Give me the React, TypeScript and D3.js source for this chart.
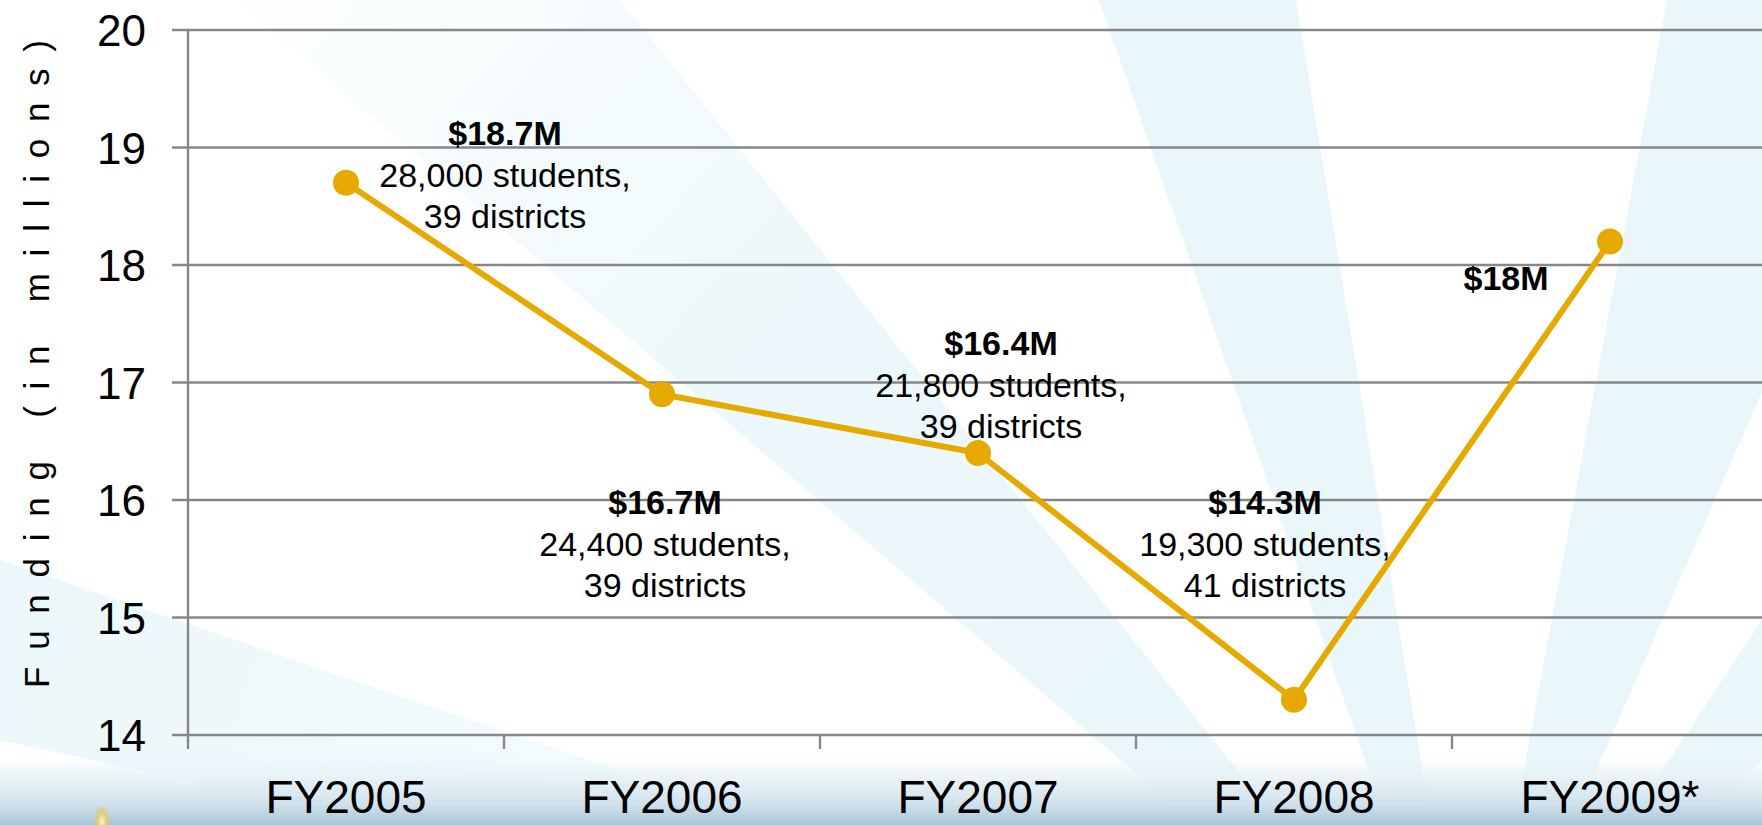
import React from "react";
import * as d3 from "d3";

const categories = ["FY2005", "FY2006", "FY2007", "FY2008", "FY2009*"];
const funding = [18.7, 16.9, 16.4, 14.3, 18.2];
const amountLabels = ["$18.7M", "$16.7M", "$16.4M", "$14.3M", "$18M"];
const studentLabels = ["28,000 students,", "24,400 students,", "21,800 students,", "19,300 students,", ""];
const districtLabels = ["39 districts", "39 districts", "39 districts", "41 districts", ""];
const labelDx = [159, 3, 23, -29, -104];
const labelFirstBaseline = [145, 514, 355, 514, 290];
const yTicks = [14, 15, 16, 17, 18, 19, 20];
const yTitle = "Funding (in millions)";

const W = 1762;
const H = 825;
const FONT = "'Liberation Sans', Arial, Helvetica, sans-serif";

export default function App() {
  const x = d3.scaleBand<string>().domain(categories).range([188, 188 + 316 * 5]).padding(0);
  const y = d3.scaleLinear().domain([14, 20]).range([735, 30]);
  const cx = (c: string) => (x(c) as number) + x.bandwidth() / 2;

  const line = d3
    .line<number>()
    .x((_, i) => cx(categories[i]))
    .y((d) => y(d));

  const P: [number, number] = [1470, 1060];
  const rays: [number, number][][] = [
    [P, [236, 0], [620, 0]],
    [P, [1099, 0], [1296, 0]],
    [P, [1667, 0], [1933, 0]],
    [P, [1762, 620], [1762, 760]],
    [P, [0, 560], [0, 740]],
  ];

  const gridColor = "#878787";
  const lineColor = "#E6A900";

  return (
    <div style={{ position: "fixed", left: 0, top: 0, width: W, height: H, overflow: "hidden", background: "#fff" }}>
      <svg width={W} height={H} viewBox={`0 0 ${W} ${H}`} style={{ display: "block" }}>
        <defs>
          <linearGradient id="bottomBand" x1="0" y1="0" x2="0" y2="1">
            <stop offset="0%" stopColor="#e6f1f6" stopOpacity={0} />
            <stop offset="30%" stopColor="#e6f0f5" stopOpacity={0.85} />
            <stop offset="70%" stopColor="#cfe1ec" stopOpacity={1} />
            <stop offset="100%" stopColor="#a9c5d8" stopOpacity={1} />
          </linearGradient>
          <linearGradient id="rayUL" gradientUnits="userSpaceOnUse" x1="300" y1="0" x2="1100" y2="700">
            <stop offset="0%" stopColor="#e8f6fa" stopOpacity={0.15} />
            <stop offset="55%" stopColor="#e8f6fa" stopOpacity={0.9} />
            <stop offset="100%" stopColor="#e8f6fa" stopOpacity={1} />
          </linearGradient>
          <linearGradient id="rayLL" gradientUnits="userSpaceOnUse" x1="0" y1="600" x2="900" y2="800">
            <stop offset="0%" stopColor="#e8f6fa" stopOpacity={0.9} />
            <stop offset="100%" stopColor="#e8f6fa" stopOpacity={0.5} />
          </linearGradient>
          <radialGradient id="glow" cx="0.5" cy="0.5" r="0.5">
            <stop offset="0%" stopColor="#fff6c8" stopOpacity={1} />
            <stop offset="60%" stopColor="#e8c65a" stopOpacity={0.7} />
            <stop offset="100%" stopColor="#e8c65a" stopOpacity={0} />
          </radialGradient>
        </defs>

        <rect x={0} y={0} width={W} height={H} fill="#ffffff" />
        {rays.map((r, i) => (
          <polygon
            key={i}
            points={r.map((p) => p.join(",")).join(" ")}
            fill={i === 0 ? "url(#rayUL)" : i === 4 ? "url(#rayLL)" : "#e8f6fa"}
            opacity={0.9}
          />
        ))}
        <rect x={0} y={758} width={W} height={H - 758} fill="url(#bottomBand)" />
        <ellipse cx={102} cy={822} rx={9} ry={18} fill="url(#glow)" />

        {yTicks.map((t) => (
          <line key={t} x1={172} x2={W} y1={y(t)} y2={y(t)} stroke={gridColor} strokeWidth={2.4} />
        ))}
        <line x1={188} x2={188} y1={y(20)} y2={y(14) + 14} stroke={gridColor} strokeWidth={2.4} />
        {categories.slice(1).map((c) => (
          <line key={c} x1={x(c) as number} x2={x(c) as number} y1={y(14)} y2={y(14) + 14} stroke={gridColor} strokeWidth={2.4} />
        ))}

        {yTicks.map((t) => (
          <text key={t} x={146} y={y(t) + 16} textAnchor="end" fontFamily={FONT} fontSize={44} fill="#000">
            {t}
          </text>
        ))}

        <text
          transform={`translate(49,364) rotate(-90)`}
          textAnchor="middle"
          fontFamily={FONT}
          fontSize={35}
          fill="#000"
          textLength={648}
          lengthAdjust="spacing"
        >
          {yTitle}
        </text>

        {categories.map((c) => (
          <text key={c} x={cx(c)} y={813} textAnchor="middle" fontFamily={FONT} fontSize={46} fill="#000">
            {c}
          </text>
        ))}

        <path d={line(funding) || ""} fill="none" stroke={lineColor} strokeWidth={6} strokeLinejoin="round" />
        {funding.map((v, i) => (
          <circle key={i} cx={cx(categories[i])} cy={y(v)} r={13} fill={lineColor} />
        ))}

        {categories.map((c, i) => {
          const lx = cx(c) + labelDx[i];
          const b = labelFirstBaseline[i];
          return (
            <g key={c} fontFamily={FONT} fontSize={34} fill="#000" textAnchor="middle">
              <text x={lx} y={b} fontWeight="bold">
                {amountLabels[i]}
              </text>
              {studentLabels[i] && (
                <text x={lx} y={b + 42}>
                  {studentLabels[i]}
                </text>
              )}
              {districtLabels[i] && (
                <text x={lx} y={b + 83}>
                  {districtLabels[i]}
                </text>
              )}
            </g>
          );
        })}
      </svg>
    </div>
  );
}
